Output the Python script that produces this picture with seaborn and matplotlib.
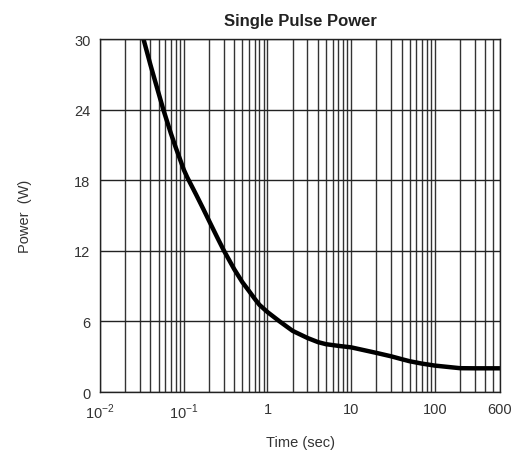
import numpy as np
import pandas as pd
import matplotlib
matplotlib.use('Agg')
import matplotlib.pyplot as plt
import seaborn as sns
from matplotlib.ticker import LogLocator, FixedLocator, NullFormatter

# 读图得到的数据
time_sec = [0.033, 0.04, 0.05, 0.057, 0.06, 0.07, 0.08, 0.09, 0.1, 0.11, 0.14, 0.17, 0.2,
            0.25, 0.3, 0.4, 0.5, 0.6, 0.7, 0.8, 1.0, 1.4, 2, 3, 4, 5, 7, 10,
            20, 30, 40, 50, 70, 100, 200, 300, 600]
power_w = [30, 27.8, 25.4, 24, 23.5, 22.0, 20.8, 19.8, 18.9, 18.25, 16.8, 15.6, 14.57,
           13.17, 12.05, 10.45, 9.35, 8.6, 7.95, 7.42, 6.8, 6.0, 5.2, 4.6, 4.25, 4.07, 3.93, 3.8,
           3.33, 3.04, 2.8, 2.62, 2.42, 2.25, 2.03, 2.02, 2.02]

x_ticks = [0.01, 0.1, 1, 10, 100, 600]
x_labels = ['$10^{-2}$', '$10^{-1}$', '1', '10', '100', '600']
y_ticks = [0, 6, 12, 18, 24, 30]

df = pd.DataFrame({'Time': time_sec, 'Power': power_w})

sns.set_style('white')
plt.rcParams['font.family'] = ['Liberation Sans', 'DejaVu Sans']
plt.rcParams['mathtext.fontset'] = 'custom'
plt.rcParams['mathtext.rm'] = 'Liberation Sans'

fig = plt.figure(figsize=(5.16, 4.56), dpi=100)
ax = fig.add_axes([0.194, 0.138, 0.775, 0.774])

sns.lineplot(data=df, x='Time', y='Power', color='black', linewidth=3.2, ax=ax)

ax.set_xscale('log')
ax.set_xlim(0.01, 600)
ax.set_ylim(0, 30)

# 网格
ax.xaxis.set_major_locator(FixedLocator(x_ticks))
ax.xaxis.set_minor_locator(LogLocator(base=10, subs=np.arange(2, 10), numticks=20))
ax.xaxis.set_minor_formatter(NullFormatter())
ax.set_xticks(x_ticks)
ax.set_xticklabels(x_labels)
ax.set_yticks(y_ticks)
ax.grid(True, which='both', axis='x', color='#333333', linewidth=1.0)
ax.grid(True, which='major', axis='y', color='#222222', linewidth=1.0)
ax.tick_params(axis='both', which='both', length=0, labelsize=10.5, labelcolor='#333333', pad=7)

for s in ax.spines.values():
    s.set_color('#222222')
    s.set_linewidth(1.0)

ax.set_title('Single Pulse Power', fontsize=12, fontweight='bold', color='#222222', pad=10)
ax.set_xlabel('Time (sec)', fontsize=10.5, color='#333333', labelpad=10)
ax.set_ylabel('Power  (W)', fontsize=10.5, color='#333333', labelpad=30)

fig.savefig('out.png', dpi=100)
